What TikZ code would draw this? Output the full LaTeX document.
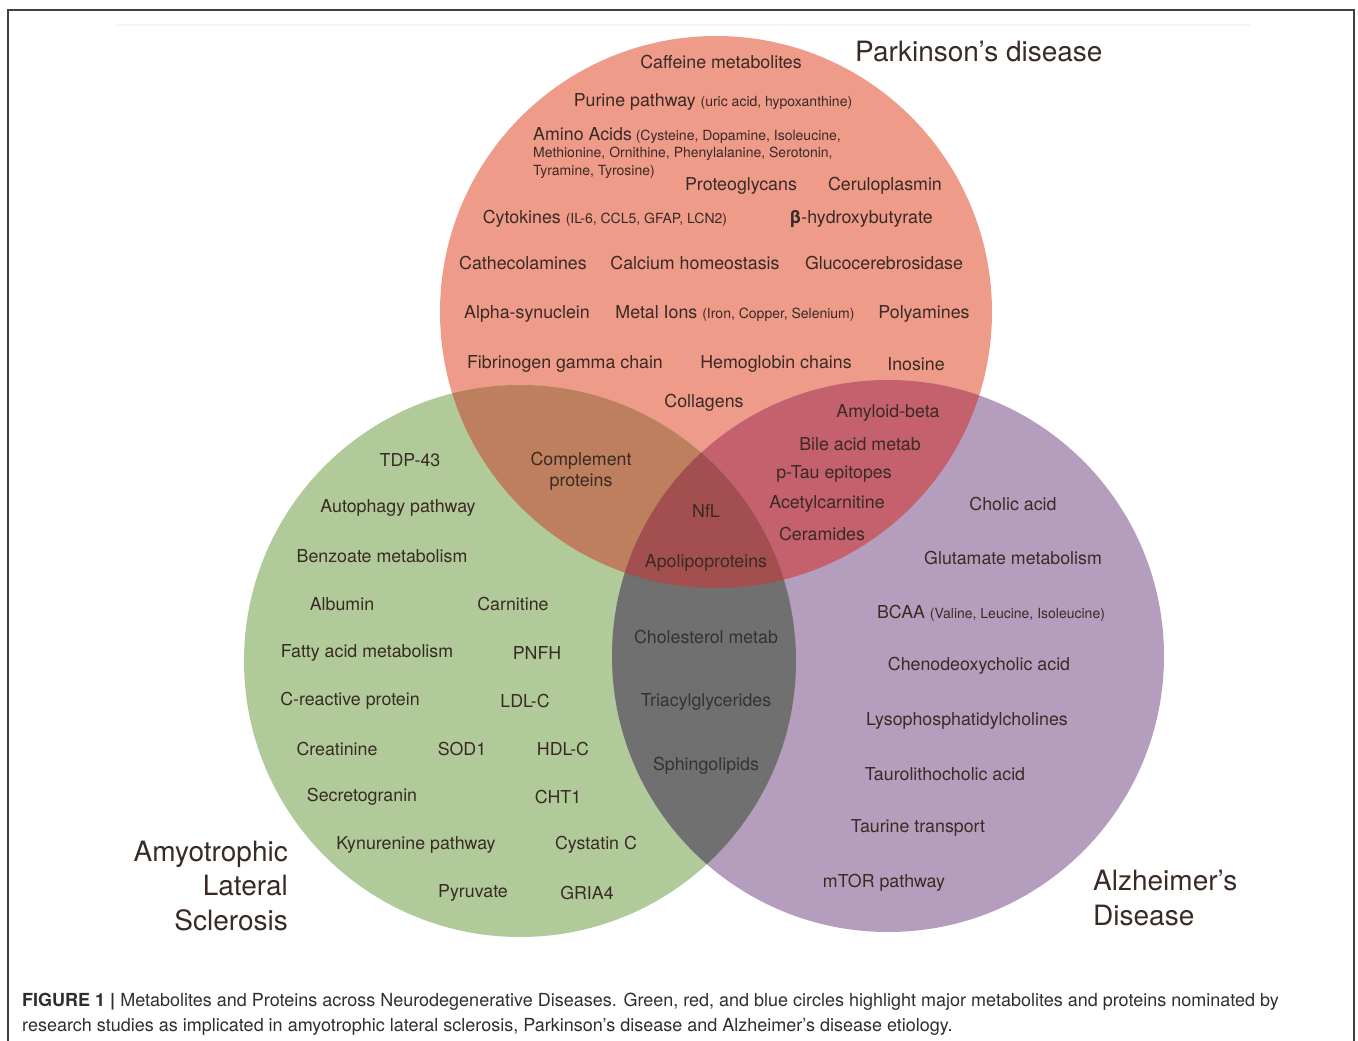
\documentclass[tikz,border=0pt]{standalone}
\usepackage{fontspec}
\setmainfont{TeX Gyre Heros}
\usepackage{xcolor}
\usepackage{tikz}
\usetikzlibrary{positioning}

\definecolor{ink}{HTML}{3A2A24}
\definecolor{capink}{HTML}{2E2E2E}
\definecolor{pdred}{HTML}{EE9B8A}
\definecolor{alsgreen}{HTML}{B1CA9A}
\definecolor{adpurple}{HTML}{B59EBD}
\definecolor{pdals}{HTML}{BD7F5E}
\definecolor{pdad}{HTML}{C5616D}
\definecolor{alsad}{HTML}{707070}
\definecolor{allthree}{HTML}{A34F4F}

\newcommand{\detail}[1]{{\fontsize{14}{17}\selectfont #1}}

\tikzset{
	item/.style={text=ink, inner sep=0pt, yshift=-2pt, font=\fontsize{17.8}{21}\selectfont},
	disease/.style={text=ink, inner sep=0pt, font=\fontsize{28}{34.5}\selectfont},
	caption/.style={text=capink, inner sep=0pt, align=left, font=\fontsize{18}{25}\selectfont}
}

\begin{document}
\begin{tikzpicture}[x=1pt, y=-1pt]
		\useasboundingbox (0,0) rectangle (1358,1041);
		\draw[black!75, line width=1.2pt] (8,1041) -- (8,10) -- (1354,10) -- (1354,1041);
		\draw[black!4, line width=2pt] (115,25) -- (1250,25);
		% circle centres
		\coordinate (pd) at (716,312);
		\coordinate (als) at (520,661);
		\coordinate (ad) at (888,656);
		\fill[pdred] (pd) circle[radius=276pt];
		\fill[alsgreen] (als) circle[radius=276pt];
		\fill[adpurple] (ad) circle[radius=276pt];
		\begin{scope}
			\clip (pd) circle[radius=276pt];
			\fill[pdals] (als) circle[radius=276pt];
			\fill[pdad] (ad) circle[radius=276pt];
		\end{scope}
		\begin{scope}
			\clip (als) circle[radius=276pt];
			\fill[alsad] (ad) circle[radius=276pt];
			\clip (ad) circle[radius=276pt];
			\fill[allthree] (pd) circle[radius=276pt];
		\end{scope}
		
		\node[disease, anchor=west] (pdtitle) at (855,52) {Parkinson’s disease};
		\node[disease, anchor=east, align=right] (alstitle) at (288,886) {Amyotrophic\\Lateral\\Sclerosis};
		\node[disease, anchor=west, align=left] (adtitle) at (1093,898) {Alzheimer’s\\Disease};
		
		% Parkinson's only
		\node[item] (caffeine) at (721,60) {Caffeine metabolites};
		\node[item] (purine) at (713,100) {Purine pathway \detail{(uric acid, hypoxanthine)}};
		\node[item, anchor=west, align=left, font=\fontsize{14}{17.5}\selectfont] (amino) at (533,151)
			{{\fontsize{17.8}{17.5}\selectfont Amino Acids} (Cysteine, Dopamine, Isoleucine,\\Methionine, Ornithine, Phenylalanine, Serotonin,\\Tyramine, Tyrosine)};
		\node[item] (proteo) at (741,184) {Proteoglycans};
		\node[item] (cerulo) at (885,184) {Ceruloplasmin};
		\node[item] (cyto) at (605,217) {Cytokines \detail{(IL-6, CCL5, GFAP, LCN2)}};
		\node[item] (hydroxy) at (861,217) {{\bfseries β}-hydroxybutyrate};
		\node[item] (cathe) at (523,261) {Cathecolamines};
		\node[item] (calcium) at (695,261) {Calcium homeostasis};
		\node[item] (gluco) at (884,261) {Glucocerebrosidase};
		\node[item] (alpha) at (527,312) {Alpha-synuclein};
		\node[item] (metal) at (735,312) {Metal Ions \detail{(Iron, Copper, Selenium)}};
		\node[item] (polyam) at (924,312) {Polyamines};
		\node[item] (fibrin) at (565,362) {Fibrinogen gamma chain};
		\node[item] (hemo) at (776,362) {Hemoglobin chains};
		\node[item] (inosine) at (916,362) {Inosine};
		\node[item] (collagen) at (704,401) {Collagens};
		
		% Parkinson's and Alzheimer's
		\node[item] (amyloid) at (888,411) {Amyloid-beta};
		\node[item] (bile) at (860,442) {Bile acid metab};
		\node[item] (ptau) at (834,472) {p-Tau epitopes};
		\node[item] (acetyl) at (827,502) {Acetylcarnitine};
		\node[item] (ceram) at (822,532) {Ceramides};
		
		% Parkinson's and ALS, all three
		\node[item, align=center] (complement) at (581,469) {Complement\\proteins};
		\node[item] (nfl) at (706,509) {NfL};
		\node[item] (apolipo) at (706,561) {Apolipoproteins};
		
		% ALS and Alzheimer's
		\node[item, text=black!80] (chol) at (706,635) {Cholesterol metab};
		\node[item, text=black!80] (triacyl) at (706,700) {Triacylglycerides};
		\node[item, text=black!80] (sphingo) at (706,764) {Sphingolipids};
		
		% ALS only
		\node[item] (tdp) at (410,458) {TDP-43};
		\node[item] (autophagy) at (398,506) {Autophagy pathway};
		\node[item] (benzoate) at (382,554) {Benzoate metabolism};
		\node[item] (albumin) at (342,602) {Albumin};
		\node[item] (carnitine) at (513,602) {Carnitine};
		\node[item] (fatty) at (367,651) {Fatty acid metabolism};
		\node[item] (pnfh) at (537,651) {PNFH};
		\node[item] (crp) at (350,699) {C-reactive protein};
		\node[item] (ldl) at (525,699) {LDL-C};
		\node[item] (creat) at (337,747) {Creatinine};
		\node[item] (sod) at (462,747) {SOD1};
		\node[item] (hdl) at (563,747) {HDL-C};
		\node[item] (secreto) at (362,795) {Secretogranin};
		\node[item] (cht) at (558,795) {CHT1};
		\node[item] (kynur) at (416,843) {Kynurenine pathway};
		\node[item] (cystatin) at (596,843) {Cystatin C};
		\node[item] (pyruvate) at (473,891) {Pyruvate};
		\node[item] (gria) at (587,891) {GRIA4};
		
		% Alzheimer's only
		\node[item] (cholic) at (1013,502) {Cholic acid};
		\node[item] (glutamate) at (1013,556) {Glutamate metabolism};
		\node[item] (bcaa) at (991,611) {BCAA \detail{(Valine, Leucine, Isoleucine)}};
		\node[item] (cheno) at (979,664) {Chenodeoxycholic acid};
		\node[item] (lyso) at (967,719) {Lysophosphatidylcholines};
		\node[item] (tauro) at (945,772) {Taurolithocholic acid};
		\node[item] (taurine) at (918,826) {Taurine transport};
		\node[item] (mtor) at (884,881) {mTOR pathway};
		
		\node[caption, anchor=north west] (fig) at (22,993)
			{{\bfseries FIGURE 1 |} Metabolites and Proteins across Neurodegenerative Diseases. Green, red, and blue circles highlight major metabolites and proteins nominated by\\research studies as implicated in amyotrophic lateral sclerosis, Parkinson’s disease and Alzheimer’s disease etiology.};
	\end{tikzpicture}
\end{document}
